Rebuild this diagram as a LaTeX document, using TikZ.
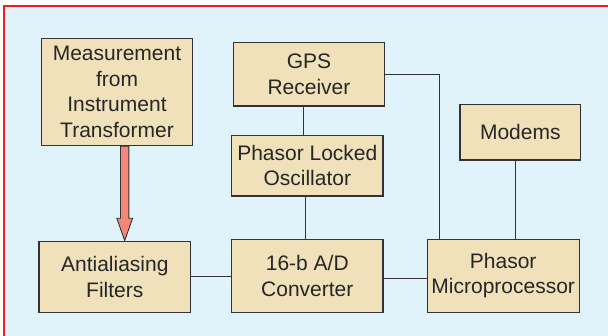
\documentclass[tikz,border=0pt]{standalone}
\usepackage{fontspec}
\setmainfont{Liberation Sans}
\usetikzlibrary{calc}
\definecolor{bgblue}{HTML}{E1F3FA}
\definecolor{boxfill}{HTML}{F1E1BA}
\definecolor{frame}{HTML}{EE1C25}
\definecolor{edge}{HTML}{333333}
\definecolor{salmon}{HTML}{F4877A}
\tikzset{
  blk/.style={draw=edge, fill=boxfill, line width=1.1pt, inner sep=0pt, align=center,
    font=\fontsize{21}{25.5}\selectfont, text=black!85},
  wire/.style={draw=edge, line width=0.9pt},
}
\begin{document}
\begin{tikzpicture}[x=1pt,y=-1pt]
\useasboundingbox (0,0) rectangle (608,336);
\fill[white] (0,0) rectangle (608,336);
\fill[bgblue] (4,6) rectangle (608,336);
\draw[frame, line width=2.5pt] (4,336) -- (4,6) -- (608,6);

\node[blk, minimum width=151.4pt, minimum height=107.4pt] (meas) at (117,92) {Measurement\\from\\Instrument\\Transformer};
\node[blk, minimum width=151.4pt, minimum height=63.7pt] (gps) at (309,74.2) {GPS\\Receiver};
\node[blk, minimum width=151.3pt, minimum height=60.7pt] (plo) at (307.3,165.7) {Phasor Locked\\Oscillator};
\node[blk, minimum width=120.7pt, minimum height=55.7pt] (mod) at (520.3,132.2) {Modems};
\node[blk, minimum width=151.7pt, minimum height=71pt] (anti) at (114.8,276.8) {Antialiasing\\Filters};
\node[blk, minimum width=151.3pt, minimum height=73pt] (ad) at (307.3,275.8) {16-b A/D\\Converter};
\node[blk, minimum width=152.3pt, minimum height=73pt] (micro) at (503.2,275.8) {Phasor\\Microprocessor};

\draw[wire] ([xshift=-6pt]gps.south) -- ([xshift=-6pt]gps.south |- plo.north);
\draw[wire] ([xshift=-1.6pt]plo.south) -- ([xshift=-1.6pt]plo.south |- ad.north);
\draw[wire] (gps.east) -| ([xshift=-63.9pt]micro.north);
\draw[wire] ([xshift=-5pt]mod.south) -- ([xshift=-5pt]mod.south |- micro.north);
\draw[wire] (anti.east) -- (anti.east -| ad.west);
\draw[wire] ([yshift=-2.2pt]ad.east) -- ([yshift=-2.2pt]ad.east -| micro.west);

\coordinate (at) at ([xshift=7.7pt]meas.south);
\draw[draw=edge, fill=salmon, line width=0.9pt, line join=miter]
  ($(at)+(-4.2,0)$) -- ($(at)+(-4.2,72)$) -- ($(at)+(-7.9,72)$) -- ($(at)+(0,94.3)$)
  -- ($(at)+(7.9,72)$) -- ($(at)+(4.2,72)$) -- ($(at)+(4.2,0)$) -- cycle;
\end{tikzpicture}
\end{document}
